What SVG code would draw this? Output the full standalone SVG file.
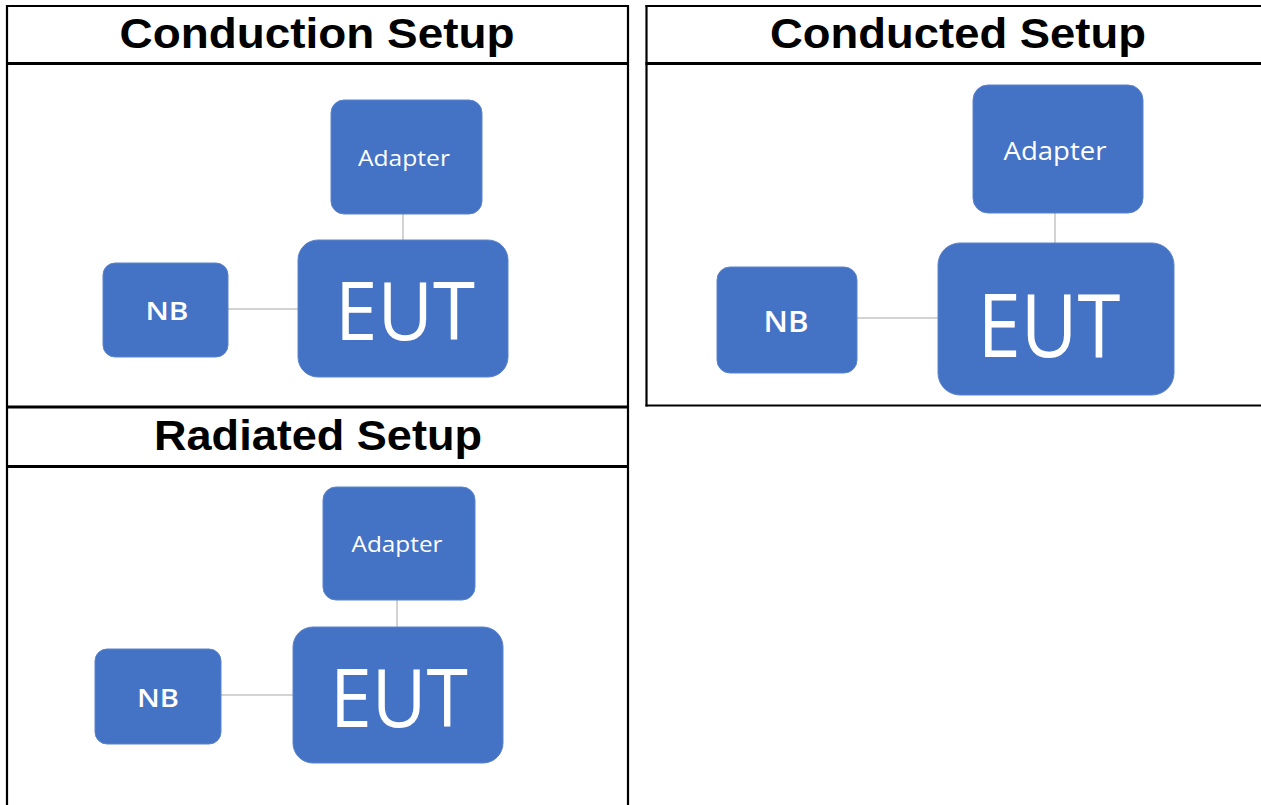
<svg xmlns="http://www.w3.org/2000/svg" width="1261" height="805" viewBox="0 0 1261 805">
<style>
.bg{fill:#ffffff}
.grid{stroke:#000;fill:none}
.v{stroke-width:2.2}
.h{stroke-width:3}
.title{font-family:"Liberation Sans",Arial,sans-serif;font-weight:bold;font-size:42px;fill:#000;text-anchor:middle}
.box{fill:#4472c4;stroke:#5b84cc;stroke-width:1}
.lbl{font-family:"Open Sans","Noto Sans",sans-serif;fill:#ffffff;text-anchor:middle}
.nb{font-weight:600}
.conn{stroke:#c4c4c4;stroke-width:1.5;fill:none}
</style>
<rect class="bg" x="0" y="0" width="1261" height="805"/>
<g id="table">
  <line class="grid v" x1="7" y1="5" x2="7" y2="805"/>
  <line class="grid v" x1="628" y1="5" x2="628" y2="805"/>
  <line class="grid v" x1="6" y1="6" x2="628" y2="6"/>
  <line class="grid h" x1="6" y1="63.5" x2="629" y2="63.5"/>
  <line class="grid h" x1="6" y1="407" x2="629" y2="407"/>
  <line class="grid h" x1="6" y1="466.5" x2="629" y2="466.5"/>
  <line class="grid v" x1="646.5" y1="5" x2="646.5" y2="406.5"/>
  <line class="grid v" x1="645.5" y1="6" x2="1261" y2="6"/>
  <line class="grid h" x1="645.5" y1="63.5" x2="1261" y2="63.5"/>
  <line class="grid v" x1="645.5" y1="405.5" x2="1261" y2="405.5"/>
  <text class="title" x="317" y="48" textLength="395" lengthAdjust="spacingAndGlyphs">Conduction Setup</text>
  <text class="title" x="958" y="48" textLength="376" lengthAdjust="spacingAndGlyphs">Conducted Setup</text>
  <text class="title" x="318" y="450" textLength="328" lengthAdjust="spacingAndGlyphs">Radiated Setup</text>
</g>
<g id="connectors">
  <line class="conn" x1="403" y1="214" x2="403" y2="240"/>
  <line class="conn" x1="228" y1="309" x2="298" y2="309"/>
  <line class="conn" x1="1055" y1="213" x2="1055" y2="243"/>
  <line class="conn" x1="857" y1="318" x2="938" y2="318"/>
  <line class="conn" x1="397" y1="600" x2="397" y2="627"/>
  <line class="conn" x1="221" y1="695" x2="293" y2="695"/>
</g>
<g id="conduction-adapter">
  <rect class="box" x="331" y="100" width="151" height="114" rx="13"/>
  <text class="lbl" x="404" y="166" font-size="22" textLength="92" lengthAdjust="spacingAndGlyphs">Adapter</text>
</g>
<g id="conduction-nb">
  <rect class="box" x="103" y="263" width="125" height="94" rx="12"/>
  <text class="lbl nb" x="167" y="320" font-size="26" textLength="43" lengthAdjust="spacingAndGlyphs">NB</text>
</g>
<g id="conduction-eut">
  <rect class="box" x="298" y="240" width="210" height="137" rx="20"/>
  <text class="lbl" x="405" y="340" font-size="80" textLength="140" lengthAdjust="spacingAndGlyphs">EUT</text>
</g>
<g id="conducted-adapter">
  <rect class="box" x="973" y="85" width="170" height="128" rx="15"/>
  <text class="lbl" x="1055" y="160" font-size="25" textLength="103" lengthAdjust="spacingAndGlyphs">Adapter</text>
</g>
<g id="conducted-nb">
  <rect class="box" x="717" y="267" width="140" height="106" rx="13"/>
  <text class="lbl nb" x="786" y="332" font-size="28" textLength="45" lengthAdjust="spacingAndGlyphs">NB</text>
</g>
<g id="conducted-eut">
  <rect class="box" x="938" y="243" width="236" height="152" rx="22"/>
  <text class="lbl" x="1049" y="357" font-size="88" textLength="143" lengthAdjust="spacingAndGlyphs">EUT</text>
</g>
<g id="radiated-adapter">
  <rect class="box" x="323" y="487" width="152" height="113" rx="13"/>
  <text class="lbl" x="397" y="552" font-size="22" textLength="91" lengthAdjust="spacingAndGlyphs">Adapter</text>
</g>
<g id="radiated-nb">
  <rect class="box" x="95" y="649" width="126" height="95" rx="12"/>
  <text class="lbl nb" x="158" y="707" font-size="26" textLength="42" lengthAdjust="spacingAndGlyphs">NB</text>
</g>
<g id="radiated-eut">
  <rect class="box" x="293" y="627" width="210" height="136" rx="20"/>
  <text class="lbl" x="399" y="727" font-size="80" textLength="138" lengthAdjust="spacingAndGlyphs">EUT</text>
</g>
</svg>
